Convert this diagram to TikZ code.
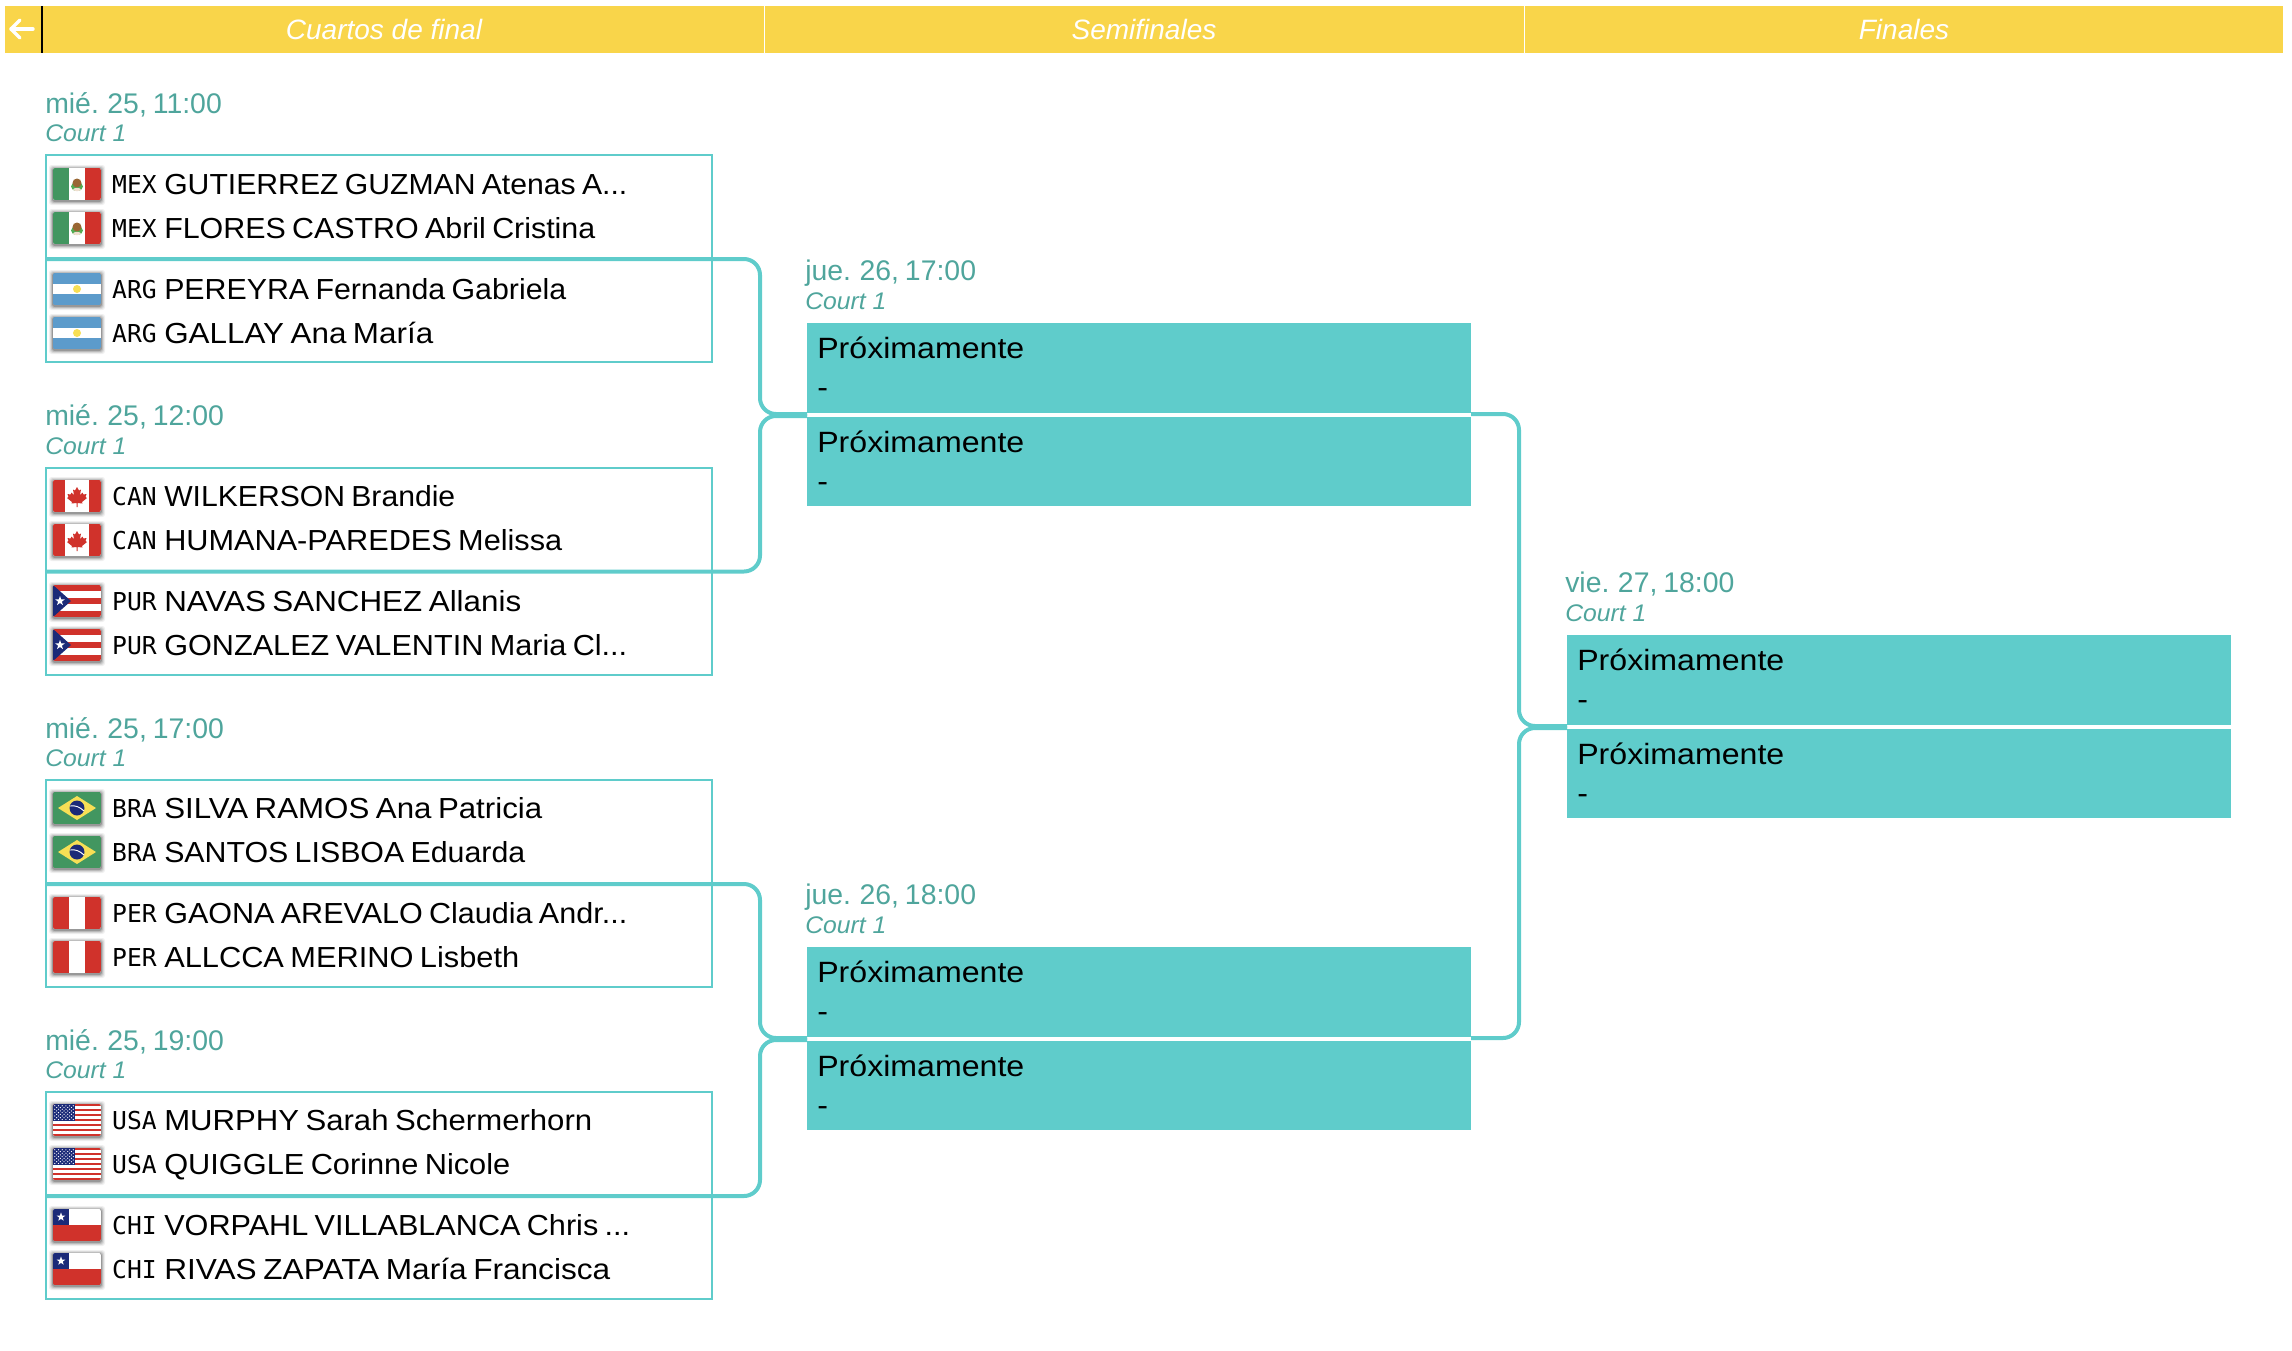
\documentclass[tikz,border=0pt]{standalone}
\usepackage{graphicx}
\usepackage{fontspec}
\setmainfont{Liberation Sans}
\newfontfamily\codefont{DejaVu Sans Mono}
\newfontfamily\namefont{Liberation Sans}
\newfontfamily\soonfont[FakeStretch=1.095]{Liberation Sans}
\newfontfamily\datefont[WordSpace=0.75]{Liberation Sans}
\newfontfamily\courtfont[FakeStretch=1.03]{Liberation Sans}
\usetikzlibrary{calc}
\definecolor{hdr}{HTML}{F9D54A}
\definecolor{teal}{HTML}{5FCCCB}
\definecolor{datec}{HTML}{4FA59C}
\definecolor{fred}{HTML}{D0322B}
\definecolor{fgreen}{HTML}{429660}
\definecolor{fblue}{HTML}{5C9BCB}
\definecolor{fnavy}{HTML}{1B2A78}
\definecolor{fyel}{HTML}{F7DF55}
\newcommand{\flagstar}[3]{\fill[white,shift={(#1,#2)}] (-90:#3) -- (-54:.4*#3) -- (-18:#3) -- (18:.4*#3) -- (54:#3) -- (90:.4*#3) -- (126:#3) -- (162:.4*#3) -- (198:#3) -- (234:.4*#3) -- cycle;}
\newcommand{\flagbase}{%
  \foreach \g/\o in {4/.06,3/.09,2/.13,1/.2}{\fill[black,opacity=\o,rounded corners=2] (-\g,-\g+1) rectangle (48+\g,32+\g+1);}
  \clip[rounded corners=1.5] (0,0) rectangle (48,32);}
\tikzset{
  x=0.75pt,y=-0.75pt,
  hcell/.style={fill=hdr,draw=none,minimum height=35.25pt,minimum width=#1*0.75pt,inner sep=0pt,outer sep=0pt,anchor=north west},
  htext/.style={text=white,font=\fontsize{21}{26}\selectfont\itshape,inner sep=0pt,anchor=base},
  matchbox/.style={draw=teal,line width=1.5pt,fill=none,minimum width=499.5pt,minimum height=#1*0.75pt,inner sep=0pt,outer sep=0pt,anchor=north west},
  soonbox/.style={fill=teal,draw=none,minimum width=498pt,minimum height=#1*0.75pt,inner sep=0pt,outer sep=0pt,anchor=north west},
  datetxt/.style={text=datec,font=\datefont\fontsize{21.3}{26}\selectfont,inner sep=0pt,anchor=base west},
  courttxt/.style={text=datec,font=\courtfont\fontsize{18}{22}\selectfont\itshape,inner sep=0pt,anchor=base west},
  nametxt/.style={text=black,font=\namefont\fontsize{21.75}{26}\selectfont,inner sep=0pt,anchor=base west},
  soontxt/.style={text=black,font=\soonfont\fontsize{22}{26}\selectfont,inner sep=0pt,anchor=base west},
  codetxt/.style={text=black,font=\codefont\fontsize{18.5}{22}\selectfont,inner sep=0pt,anchor=base east},
  conn/.style={draw=teal,line width=3pt,rounded corners=12pt},
  flagmex/.pic={\begin{scope}\flagbase
    \fill[white] (0,0) rectangle (48,32);
    \fill[fgreen] (0,0) rectangle (16,32);
    \fill[fred] (32,0) rectangle (48,32);
    \fill[green!35!gray] (24,18.5) ellipse (6 and 4.5);
    \fill[brown!80!black] (24,15) circle (4.5);
    \fill[white!75!brown] (24,21.5) ellipse (4 and 1.6);
    \end{scope}},
  flagarg/.pic={\begin{scope}\flagbase
    \fill[fblue] (0,0) rectangle (48,32);
    \fill[white] (0,10.7) rectangle (48,21.3);
    \fill[fyel] (24,16) circle (4);
    \end{scope}},
  flagcan/.pic={\begin{scope}\flagbase
    \fill[white] (0,0) rectangle (48,32);
    \fill[fred] (0,0) rectangle (12,32);
    \fill[fred] (36,0) rectangle (48,32);
    \fill[fred] (24,7) -- (26,10.5) -- (28,9.5) -- (27,15) -- (29.5,12.5) -- (30.5,14.5) -- (33.5,14) -- (32.5,17) -- (34,18) -- (29,22) -- (29.5,23.5) -- (24.5,23) -- (24.5,27) -- (23.5,27) -- (23.5,23) -- (18.5,23.5) -- (19,22) -- (14,18) -- (15.5,17) -- (14.5,14) -- (17.5,14.5) -- (18.5,12.5) -- (21,15) -- (20,9.5) -- (22,10.5) -- cycle;
    \end{scope}},
  flagpur/.pic={\begin{scope}\flagbase
    \fill[white] (0,0) rectangle (48,32);
    \foreach \s in {0,2,4}{\fill[fred] (0,\s*6.4) rectangle (48,\s*6.4+6.4);}
    \fill[fnavy] (0,0) -- (18,16) -- (0,32) -- cycle;
    \flagstar{7}{16}{5}
    \end{scope}},
  flagbra/.pic={\begin{scope}\flagbase
    \fill[fgreen] (0,0) rectangle (48,32);
    \fill[fyel] (24,4) -- (43,16) -- (24,28) -- (5,16) -- cycle;
    \fill[fnavy] (24,16) circle (7.5);
    \draw[white,line width=.7pt] (17.2,14) .. controls (22,13) and (27,15) .. (31,19);
    \end{scope}},
  flagper/.pic={\begin{scope}\flagbase
    \fill[white] (0,0) rectangle (48,32);
    \fill[fred] (0,0) rectangle (16,32);
    \fill[fred] (32,0) rectangle (48,32);
    \end{scope}},
  flagusa/.pic={\begin{scope}\flagbase
    \fill[white] (0,0) rectangle (48,32);
    \foreach \s in {0,2,...,12}{\fill[fred] (0,\s*2.4615) rectangle (48,\s*2.4615+2.4615);}
    \fill[fnavy] (0,0) rectangle (22,17.2);
    \foreach \i in {0,...,5}{\foreach \j in {0,...,4}{\fill[white] (\i*3.7+1.8,\j*3.4+1.8) circle (.65);}}
    \foreach \i in {0,...,4}{\foreach \j in {0,...,3}{\fill[white] (\i*3.7+3.65,\j*3.4+3.5) circle (.65);}}
    \end{scope}},
  flagchi/.pic={\begin{scope}\flagbase
    \fill[white] (0,0) rectangle (48,16);
    \fill[fred] (0,16) rectangle (48,32);
    \fill[fnavy] (0,0) rectangle (16,16);
    \flagstar{8}{8}{4.6}
    \end{scope}}
}
% \playerrow{id}{flag top}{flag pic}{code}{name}{name width in px}
\newcommand{\playerrow}[6]{%
  \pic at (53,#2) {#3};
  \node[codetxt] (c#1) at (157,#2+25) {#4};
  \node[nametxt] (n#1) at (164,#2+26) {\resizebox{#6\dimexpr 0.75pt\relax}{\height}{#5}};
}
\newcommand{\matchhead}[3]{%
  \node[datetxt] (d#1) at (45,#2-42) {#3};
  \node[courttxt] (k#1) at (45,#2-13.5) {Court 1};
  \node[matchbox=104] (m#1a) at (46,#2) {};
  \node[matchbox=103] (m#1b) at (46,#2+104) {};
}
\newcommand{\soonset}[6]{%
  \node[datetxt] (d#1) at (#4-2,#2-43) {#5};
  \node[courttxt] (k#1) at (#4-2,#2-14) {Court 1};
  \node[soonbox=90] (#1a) at (#4,#2) {};
  \node[soonbox=#6] (#1b) at (#4,#3) {};
  \node[soontxt] (#1at) at (#4+10,#2+35) {Próximamente};
  \node[soontxt] (#1ad) at (#4+10,#2+74) {-};
  \node[soontxt] (#1bt) at (#4+10,#3+35) {Próximamente};
  \node[soontxt] (#1bd) at (#4+10,#3+74) {-};
}
\begin{document}
\begin{tikzpicture}
\useasboundingbox (0,0) rectangle (2292,1350);
% header
\node[hcell=37] (hback) at (5,6) {};
\node[hcell=721.5] (h1) at (42,6) {};
\node[hcell=758.5] (h2) at (765,6) {};
\node[hcell=758] (h3) at (1525,6) {};
\draw[black,line width=1.5pt] (hback.north east) -- (hback.south east);
\draw[white,line width=2.6pt,line cap=round,line join=round] (20,20) -- (11,29) -- (20,38);
\draw[white,line width=2.6pt,line cap=round] (11,29) -- (33,29);
\node[htext] (t1) at (384,39) {Cuartos de final};
\node[htext] (t2) at (1144,39) {Semifinales};
\node[htext] (t3) at (1904,39) {Finales};
% quarter finals
\matchhead{1}{155}{mié. 25, 11:00}
\playerrow{1}{168}{flagmex}{MEX}{GUTIERREZ GUZMAN Atenas A...}{463}
\playerrow{2}{212}{flagmex}{MEX}{FLORES CASTRO Abril Cristina}{431}
\playerrow{3}{273}{flagarg}{ARG}{PEREYRA Fernanda Gabriela}{402}
\playerrow{4}{317}{flagarg}{ARG}{GALLAY Ana María}{269}
\matchhead{2}{467.5}{mié. 25, 12:00}
\playerrow{5}{480}{flagcan}{CAN}{WILKERSON Brandie}{291}
\playerrow{6}{524}{flagcan}{CAN}{HUMANA-PAREDES Melissa}{398}
\playerrow{7}{585}{flagpur}{PUR}{NAVAS SANCHEZ Allanis}{357}
\playerrow{8}{629}{flagpur}{PUR}{GONZALEZ VALENTIN Maria Cl...}{463}
\matchhead{3}{780}{mié. 25, 17:00}
\playerrow{9}{792}{flagbra}{BRA}{SILVA RAMOS Ana Patricia}{378}
\playerrow{10}{836}{flagbra}{BRA}{SANTOS LISBOA Eduarda}{361}
\playerrow{11}{897}{flagper}{PER}{GAONA AREVALO Claudia Andr...}{463}
\playerrow{12}{941}{flagper}{PER}{ALLCCA MERINO Lisbeth}{355}
\matchhead{4}{1092}{mié. 25, 19:00}
\playerrow{13}{1104}{flagusa}{USA}{MURPHY Sarah Schermerhorn}{428}
\playerrow{14}{1148}{flagusa}{USA}{QUIGGLE Corinne Nicole}{346}
\playerrow{15}{1209}{flagchi}{CHI}{VORPAHL VILLABLANCA Chris ...}{466}
\playerrow{16}{1253}{flagchi}{CHI}{RIVAS ZAPATA María Francisca}{446}
% semi + final
\soonset{s}{323}{417}{807}{jue. 26, 17:00}{89}
\soonset{u}{947}{1041}{807}{jue. 26, 18:00}{89}
\soonset{f}{635}{729}{1567}{vie. 27, 18:00}{89}
% connectors
\coordinate (sp1) at (760,0);
\coordinate (sp2) at (1519,0);
\tikzset{gapa/.style={yshift=-0.75pt},gapb/.style={yshift=0.75pt}}
\draw[conn] (m1a.south west) -- (m1a.south west -| sp1) -- ([gapa]sa.south west -| sp1) -- ([gapa]sa.south west);
\draw[conn] (m2a.south west) -- (m2a.south west -| sp1) -- ([gapb]sb.north west -| sp1) -- ([gapb]sb.north west);
\draw[conn] (m3a.south west) -- (m3a.south west -| sp1) -- ([gapa]ua.south west -| sp1) -- ([gapa]ua.south west);
\draw[conn] (m4a.south west) -- (m4a.south west -| sp1) -- ([gapb]ub.north west -| sp1) -- ([gapb]ub.north west);
\draw[conn] ([gapa]sa.south east) -- ([gapa]sa.south east -| sp2) -- ([gapa]fa.south west -| sp2) -- ([gapa]fa.south west);
\draw[conn] ([gapa]ua.south east) -- ([gapa]ua.south east -| sp2) -- ([gapb]fb.north west -| sp2) -- ([gapb]fb.north west);
\end{tikzpicture}
\end{document}
